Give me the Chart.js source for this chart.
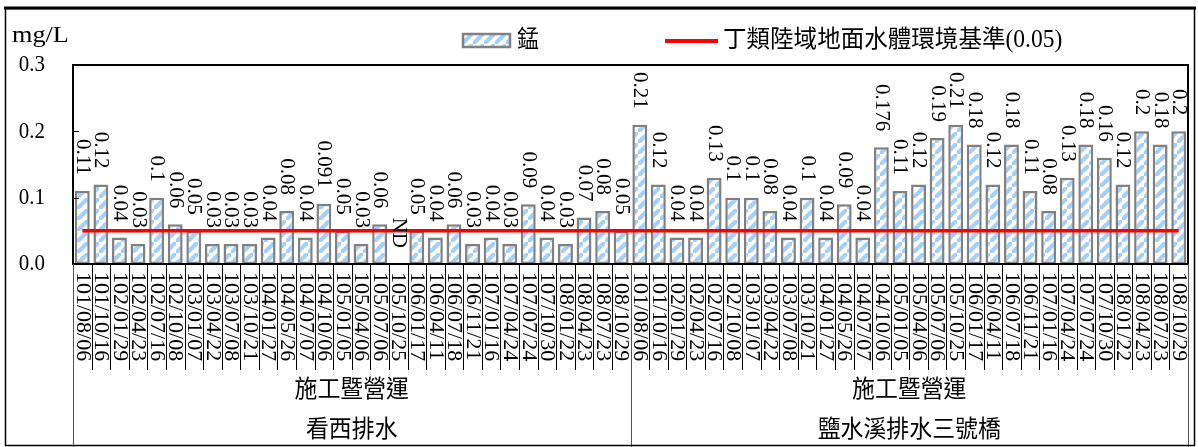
<!DOCTYPE html>
<html>
<head>
<meta charset="utf-8">
<script src="https://cdn.jsdelivr.net/npm/chart.js@4.4.0/dist/chart.umd.min.js"></script>
<style>
html,body{margin:0;padding:0;background:#fff;}
#wrap{width:1198px;height:447px;position:relative;}
</style>
</head>
<body>
<div id="wrap"><canvas id="c" width="1198" height="447"></canvas></div>
<script>
// ---- data ----
const dates = ['101/08/06','101/10/16','102/01/29','102/04/23','102/07/16','102/10/08','103/01/07','103/04/22','103/07/08','103/10/21','104/01/27','104/05/26','104/07/07','104/10/06','105/01/05','105/04/06','105/07/06','105/10/25','106/01/17','106/04/11','106/07/18','106/11/21','107/01/16','107/04/24','107/07/24','107/10/30','108/01/22','108/04/23','108/07/23','108/10/29'];
const siteNames = ['看西排水','鹽水溪排水三號橋'];
const phaseLabel = '施工暨營運';
const kanxiValues = [0.11,0.12,0.04,0.03,0.1,0.06,0.05,0.03,0.03,0.03,0.04,0.08,0.04,0.091,0.05,0.03,0.06,null,0.05,0.04,0.06,0.03,0.04,0.03,0.09,0.04,0.03,0.07,0.08,0.05];
const yanshuiValues = [0.21,0.12,0.04,0.04,0.13,0.1,0.1,0.08,0.04,0.1,0.04,0.09,0.04,0.176,0.11,0.12,0.19,0.21,0.18,0.12,0.18,0.11,0.08,0.13,0.18,0.16,0.12,0.2,0.18,0.2];
const ndText = 'ND';
const standardValues = [0.05,0.05,0.05,0.05,0.05,0.05,0.05,0.05,0.05,0.05,0.05,0.05,0.05,0.05,0.05,0.05,0.05,0.05,0.05,0.05,0.05,0.05,0.05,0.05,0.05,0.05,0.05,0.05,0.05,0.05,
                        0.05,0.05,0.05,0.05,0.05,0.05,0.05,0.05,0.05,0.05,0.05,0.05,0.05,0.05,0.05,0.05,0.05,0.05,0.05,0.05,0.05,0.05,0.05,0.05,0.05,0.05,0.05,0.05,0.05,0.05];
const yMin = 0, yMax = 0.3, yStep = 0.1;
const yTickValues = [0, 0.1, 0.2, 0.3];
const unitLabel = 'mg/L';
const seriesName = '錳';
const standardName = '丁類陸域地面水體環境基準(0.05)';

const categories = dates.concat(dates);
const values = kanxiValues.concat(yanshuiValues);
const groups = [{name: siteNames[0], start: 0, end: dates.length - 1}, {name: siteNames[1], start: dates.length, end: categories.length - 1}];

const SERIF = "'Liberation Serif','Times New Roman','Noto Sans CJK TC',serif";
const MIXED = "'Liberation Serif','Noto Sans CJK TC',serif";

const canvas = document.getElementById('c');
const ctx = canvas.getContext('2d');

function makePattern() {
  const s = 11;
  const c = document.createElement('canvas');
  c.width = s; c.height = s;
  const g = c.getContext('2d');
  g.fillStyle = '#ffffff';
  g.fillRect(0, 0, s, s);
  g.strokeStyle = '#a2cffb';
  g.lineWidth = 4.2;
  g.beginPath();
  g.moveTo(-3, s + 3); g.lineTo(s + 3, -3);
  g.moveTo(-s - 3, 3); g.lineTo(3, -s - 3);
  g.moveTo(s - 3, 2 * s + 3); g.lineTo(2 * s + 3, s - 3);
  g.stroke();
  return ctx.createPattern(c, 'repeat');
}
const stripe = makePattern();

// draw text, optionally rotated 90deg clockwise
function txt(c, s, x, y, opt) {
  c.save();
  c.translate(x, y);
  if (opt.rot) {
    c.rotate(Math.PI / 2);
    c.scale(1, opt.sx || 1);
  } else {
    c.scale(opt.sx || 1, opt.sy || 1);
  }
  c.font = opt.font;
  c.textAlign = opt.align || 'left';
  c.textBaseline = 'middle';
  c.fillStyle = '#000';
  c.fillText(s, 0, 0);
  c.restore();
}

const decorPlugin = {
  id: 'decor',
  afterDraw(chart) {
    const c = chart.ctx;
    const xs = chart.scales.x, ys = chart.scales.y;
    const a = chart.chartArea;
    c.save();

    // plot border
    c.strokeStyle = '#000'; c.lineWidth = 2;
    c.strokeRect(a.left, a.top, a.right - a.left, a.bottom - a.top);

    // inner y tick marks
    c.lineWidth = 1;
    [yTickValues[1], yTickValues[2]].forEach(v => {
      const y = Math.round(ys.getPixelForValue(v)) + 0.5;
      c.beginPath(); c.moveTo(a.left, y); c.lineTo(a.left + 6, y); c.stroke();
    });

    // y tick labels
    yTickValues.forEach(v => {
      txt(c, v.toFixed(1), 45, ys.getPixelForValue(v), {font: '21px ' + SERIF, align: 'right', sy: 1.12});
    });

    // category separators
    const n = categories.length;
    for (let i = 0; i <= n; i++) {
      let x;
      if (i === 0) x = a.left;
      else if (i === n) x = a.right;
      else x = (xs.getPixelForValue(i - 1) + xs.getPixelForValue(i)) / 2;
      const isGroup = (i === 0 || i === n || i === dates.length);
      x = Math.round(x) + 0.5;
      c.beginPath();
      c.moveTo(x, a.bottom);
      c.lineTo(x, isGroup ? 447 : 370);
      c.strokeStyle = isGroup ? '#555' : '#000';
      c.lineWidth = 1;
      c.stroke();
    }

    // x tick labels (rotated clockwise)
    for (let i = 0; i < n; i++) {
      txt(c, categories[i], xs.getPixelForValue(i), a.bottom + 8, {rot: true, font: '22px ' + SERIF});
    }

    // group labels
    groups.forEach(g => {
      const x0 = g.start === 0 ? a.left : (xs.getPixelForValue(g.start - 1) + xs.getPixelForValue(g.start)) / 2;
      const x1 = g.end === n - 1 ? a.right : (xs.getPixelForValue(g.end) + xs.getPixelForValue(g.end + 1)) / 2;
      const cx = (x0 + x1) / 2;
      txt(c, phaseLabel, cx, 391, {font: '22px ' + MIXED, align: 'center', sx: 1.04, sy: 1.1});
      txt(c, g.name, cx, 431, {font: '22px ' + MIXED, align: 'center', sx: 1.04, sy: 1.1});
    });

    // value labels
    const meta = chart.getDatasetMeta(1);
    meta.data.forEach((el, i) => {
      const v = values[i];
      const s = v === null ? ndText : String(v);
      const top = (v === null ? ys.getPixelForValue(0) : el.y) - 16;
      txt(c, s, xs.getPixelForValue(i), top, {rot: true, font: '21px ' + SERIF, align: 'right'});
    });

    // unit
    txt(c, unitLabel, 12, 36, {font: '21px ' + SERIF, sx: 1.25, sy: 1.05});

    // legend
    c.fillStyle = stripe;
    c.fillRect(463, 34, 47, 13);
    c.strokeStyle = '#808080'; c.lineWidth = 2.5;
    c.strokeRect(463, 34, 47, 13);
    txt(c, seriesName, 517, 41, {font: '22px ' + MIXED, sy: 1.1});
    c.strokeStyle = '#ff0000'; c.lineWidth = 4;
    c.beginPath(); c.moveTo(665, 41); c.lineTo(718, 41); c.stroke();
    txt(c, standardName, 723, 41, {font: '22px ' + MIXED, sx: 1.07, sy: 1.1});

    // outer border
    c.strokeStyle = '#000'; c.lineWidth = 1.5;
    c.strokeRect(5.5, 8.5, 1189, 437);
    c.lineWidth = 3;
    c.beginPath(); c.moveTo(4, 8); c.lineTo(1196, 8); c.stroke();
    c.restore();
  }
};

new Chart(ctx, {
  type: 'bar',
  data: {
    labels: categories,
    datasets: [
      {type: 'line', label: standardName, data: standardValues, borderColor: '#ff0000', borderWidth: 3.5, pointRadius: 0, fill: false, order: 0},
      {type: 'bar', label: seriesName, data: values, backgroundColor: stripe, borderColor: '#808080', borderWidth: 2.5, borderSkipped: false, barPercentage: 0.8, categoryPercentage: 1, order: 1}
    ]
  },
  options: {
    responsive: false,
    animation: false,
    layout: {padding: {top: 65, right: 10, left: 0, bottom: 0}},
    plugins: {legend: {display: false}, tooltip: {enabled: false}},
    scales: {
      x: {
        grid: {display: false, drawTicks: false},
        border: {display: false},
        ticks: {display: false},
        afterFit(s) { s.height = 183; }
      },
      y: {
        min: yMin, max: yMax,
        grid: {display: false, drawTicks: false},
        border: {display: false},
        ticks: {display: false, stepSize: yStep},
        afterFit(s) { s.width = 73; }
      }
    }
  },
  plugins: [decorPlugin]
});
</script>
</body>
</html>
